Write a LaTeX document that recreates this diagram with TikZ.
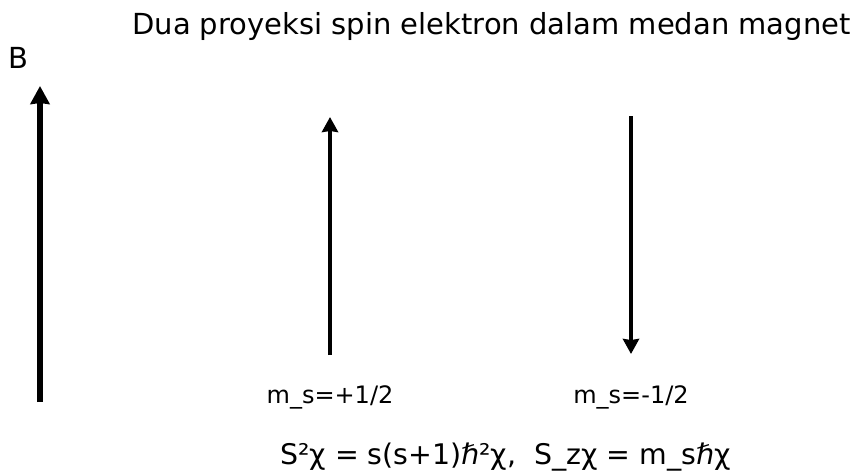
\documentclass[tikz,border=0pt]{standalone}
\usepackage{fontspec}
\setmainfont{DejaVu Sans}
\usetikzlibrary{arrows.meta}
\begin{document}
\begin{tikzpicture}[x=1pt,y=-1pt,
  lbl/.style={inner sep=0pt, anchor=center},
  vec/.style={line width=#1, -{Stealth[inset=1pt,length=15pt,width=16pt]}},
  vec/.default=3.5pt]
\useasboundingbox (0,0) rectangle (854,471);
\node[lbl, font=\fontsize{29}{34}\selectfont] (title) at (491.5,26) {Dua proyeksi spin elektron dalam medan magnet};
\node[lbl, font=\fontsize{29}{34}\selectfont] (blbl) at (18,58) {B};
\coordinate (b0) at (40,402);
\coordinate (b1) at (40,86);
\draw[line width=5.5pt, -{Stealth[inset=1pt,length=18pt,width=19pt]}] (b0) -- (b1);
\coordinate (u0) at (330,355);
\coordinate (u1) at (330,117);
\draw[vec] (u0) -- (u1);
\coordinate (d0) at (631,116);
\coordinate (d1) at (631,354);
\draw[vec] (d0) -- (d1);
\node[lbl, font=\fontsize{24}{28}\selectfont] (up) at (330,397) {m\_s=+1/2};
\node[lbl, font=\fontsize{24}{28}\selectfont] (dn) at (631,397) {m\_s=-1/2};
\node[lbl, font=\fontsize{28.4}{33}\selectfont] (eq) at (505.5,457) {S²χ = s(s+1)ℏ²χ,\ \ S\_zχ = m\_sℏχ};
\end{tikzpicture}
\end{document}
